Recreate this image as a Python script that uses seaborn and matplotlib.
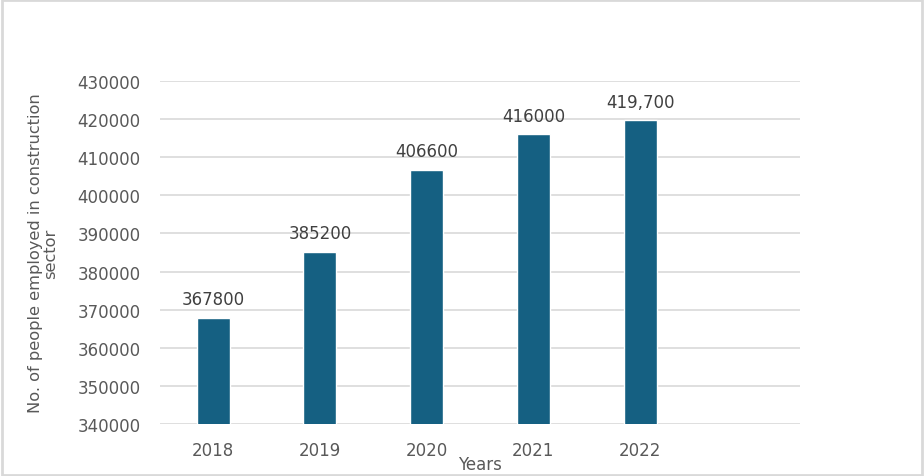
import matplotlib
matplotlib.use("Agg")
import matplotlib.pyplot as plt
import seaborn as sns
import pandas as pd

# данные
years = ["2018", "2019", "2020", "2021", "2022"]
employed = [367800, 385200, 406600, 416000, 419700]
bar_labels = ["367800", "385200", "406600", "416000", "419,700"]
y_ticks = [340000, 350000, 360000, 370000, 380000, 390000, 400000, 410000, 420000, 430000]

sns.set_theme(style="white")
plt.rcParams['font.family'] = ['DejaVu Sans']

df = pd.DataFrame({"Years": years, "Employed": employed})

fig = plt.figure(figsize=(9.24, 4.77), dpi=100)
ax = fig.add_axes([0.173, 0.109, 0.693, 0.719])

sns.barplot(data=df, x="Years", y="Employed", color="#156082", width=0.31,
            saturation=1, ax=ax, zorder=3)

ax.set_xlim(-0.5, 5.5)
ax.set_ylim(y_ticks[0], y_ticks[-1])
ax.set_yticks(y_ticks)
ax.set_yticklabels([str(t) for t in y_ticks])
ax.yaxis.grid(True, color="#d9d9d9", lw=1.2, zorder=0)
ax.xaxis.grid(False)
for s in ax.spines.values():
    s.set_visible(False)
ax.tick_params(axis="y", length=0, labelsize=12, labelcolor="#595959", pad=14)
ax.tick_params(axis="x", length=0, labelsize=12, labelcolor="#595959", pad=12)

for i, lab in enumerate(bar_labels):
    ax.annotate(lab, (i, employed[i]), xytext=(0, 7), textcoords="offset points",
                ha="center", va="bottom", fontsize=12, color="#404040")

ax.set_xlabel("Years", fontsize=12, color="#595959", labelpad=-3)
ax.set_ylabel("No. of people employed in construction\nsector", fontsize=11.7,
              color="#595959", labelpad=14, linespacing=1.0)

# рамка вокруг диаграммы
fig.patches.append(plt.Rectangle((0.002, 0.003), 0.996, 0.994, transform=fig.transFigure,
                                 fill=False, edgecolor="#d9d9d9", lw=2))

fig.savefig("out.png", dpi=100)
